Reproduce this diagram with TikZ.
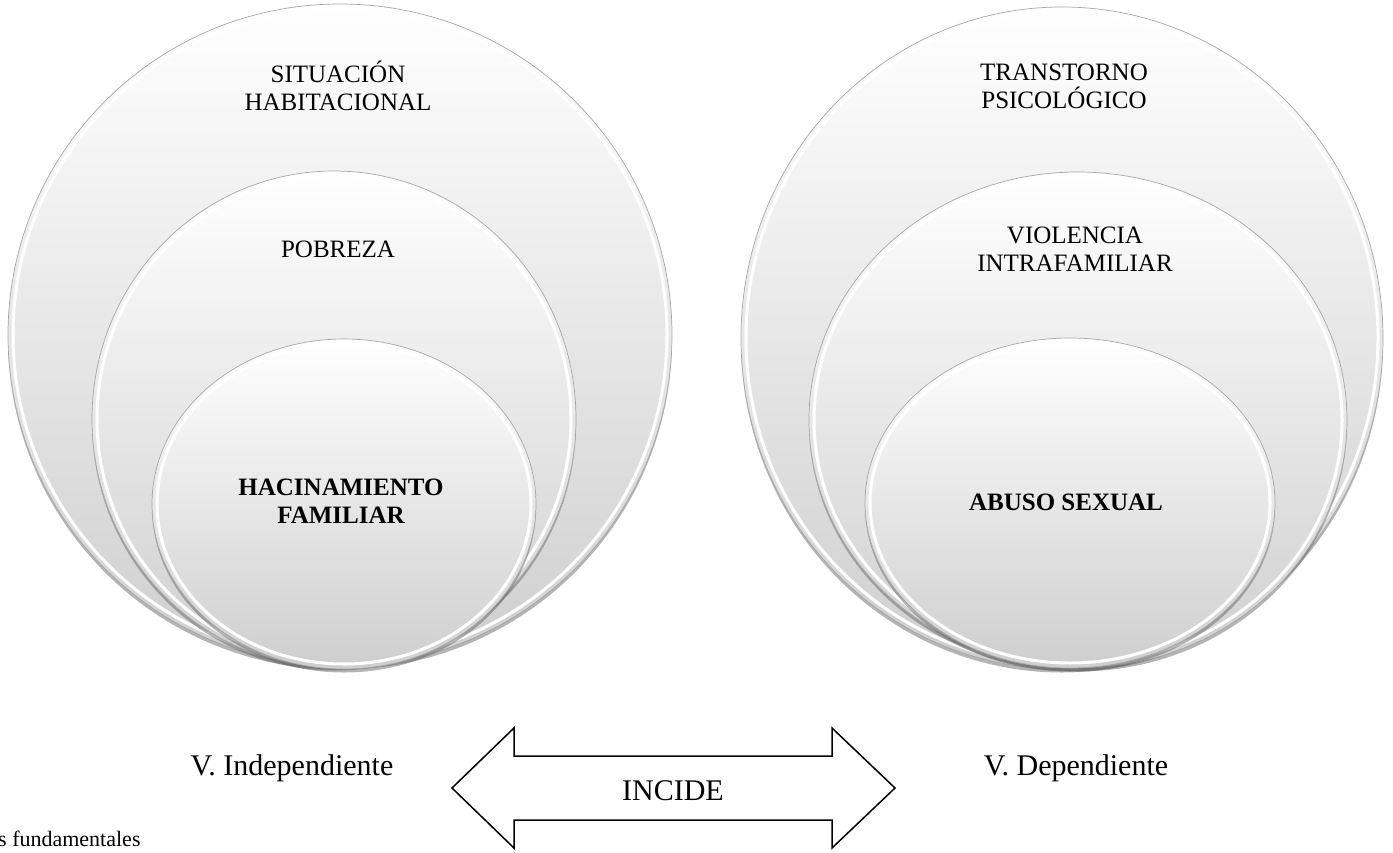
\documentclass[tikz,border=0pt]{standalone}
\usepackage{fontspec}
\setmainfont{Liberation Serif}
\usetikzlibrary{shadows}

\begin{document}
\begin{tikzpicture}[x=1pt,y=-1pt,
  ring/.style={draw=gray!70, line width=0.7pt, top color=white, bottom color=black!19,
    drop shadow={shadow xshift=0pt, shadow yshift=-3.5pt, opacity=0.45, fill=black!65}},
  band/.style={draw=white, line width=3pt},
  lbl/.style={font=\fontsize{25}{28}\selectfont, align=center, inner sep=0pt},
  big/.style={font=\fontsize{30}{32}\selectfont, inner sep=0pt, anchor=base}]

\useasboundingbox (0,0) rectangle (1393,852);

% left target
\draw[ring] (340,335) ellipse (332 and 331);
\draw[band] (340,335) ellipse (327 and 326);
\draw[ring] (334,419) ellipse (242 and 248);
\draw[band] (334,419) ellipse (237 and 243);
\draw[ring] (344,504) ellipse (192 and 165);
\draw[band] (344,504) ellipse (187 and 160);

% right target
\draw[ring] (1062,338) ellipse (321 and 331);
\draw[band] (1062,338) ellipse (316 and 326);
\draw[ring] (1078,420) ellipse (269 and 248);
\draw[band] (1078,420) ellipse (264 and 243);
\draw[ring] (1070,503) ellipse (205 and 165);
\draw[band] (1070,503) ellipse (200 and 160);

\node[lbl] (sit) at (338,86) {SITUACIÓN\\HABITACIONAL};
\node[lbl] (pob) at (338,249) {POBREZA};
\node[lbl, font=\fontsize{25}{28}\selectfont\bfseries] (hac) at (341,501) {HACINAMIENTO\\FAMILIAR};

\node[lbl] (tra) at (1064,86) {TRANSTORNO\\PSICOLÓGICO};
\node[lbl] (vio) at (1075,249) {VIOLENCIA\\INTRAFAMILIAR};
\node[lbl, font=\fontsize{25}{28}\selectfont\bfseries] (abu) at (1066,502) {ABUSO SEXUAL};

% double arrow
\draw[line width=1.5pt, fill=white, line join=miter]
  (452,788) -- (514,728) -- (514,756) -- (832,756) -- (832,728) -- (895,788)
  -- (832,848) -- (832,820) -- (514,820) -- (514,848) -- cycle;

\node[big] (incide) at (673,800) {INCIDE};
\node[big] (vind) at (292,775) {V. Independiente};
\node[big] (vdep) at (1076,775) {V. Dependiente};
\node[inner sep=0pt, anchor=base west, font=\fontsize{22}{24}\selectfont] (fund) at (-2,846) {s fundamentales};

\end{tikzpicture}
\end{document}
